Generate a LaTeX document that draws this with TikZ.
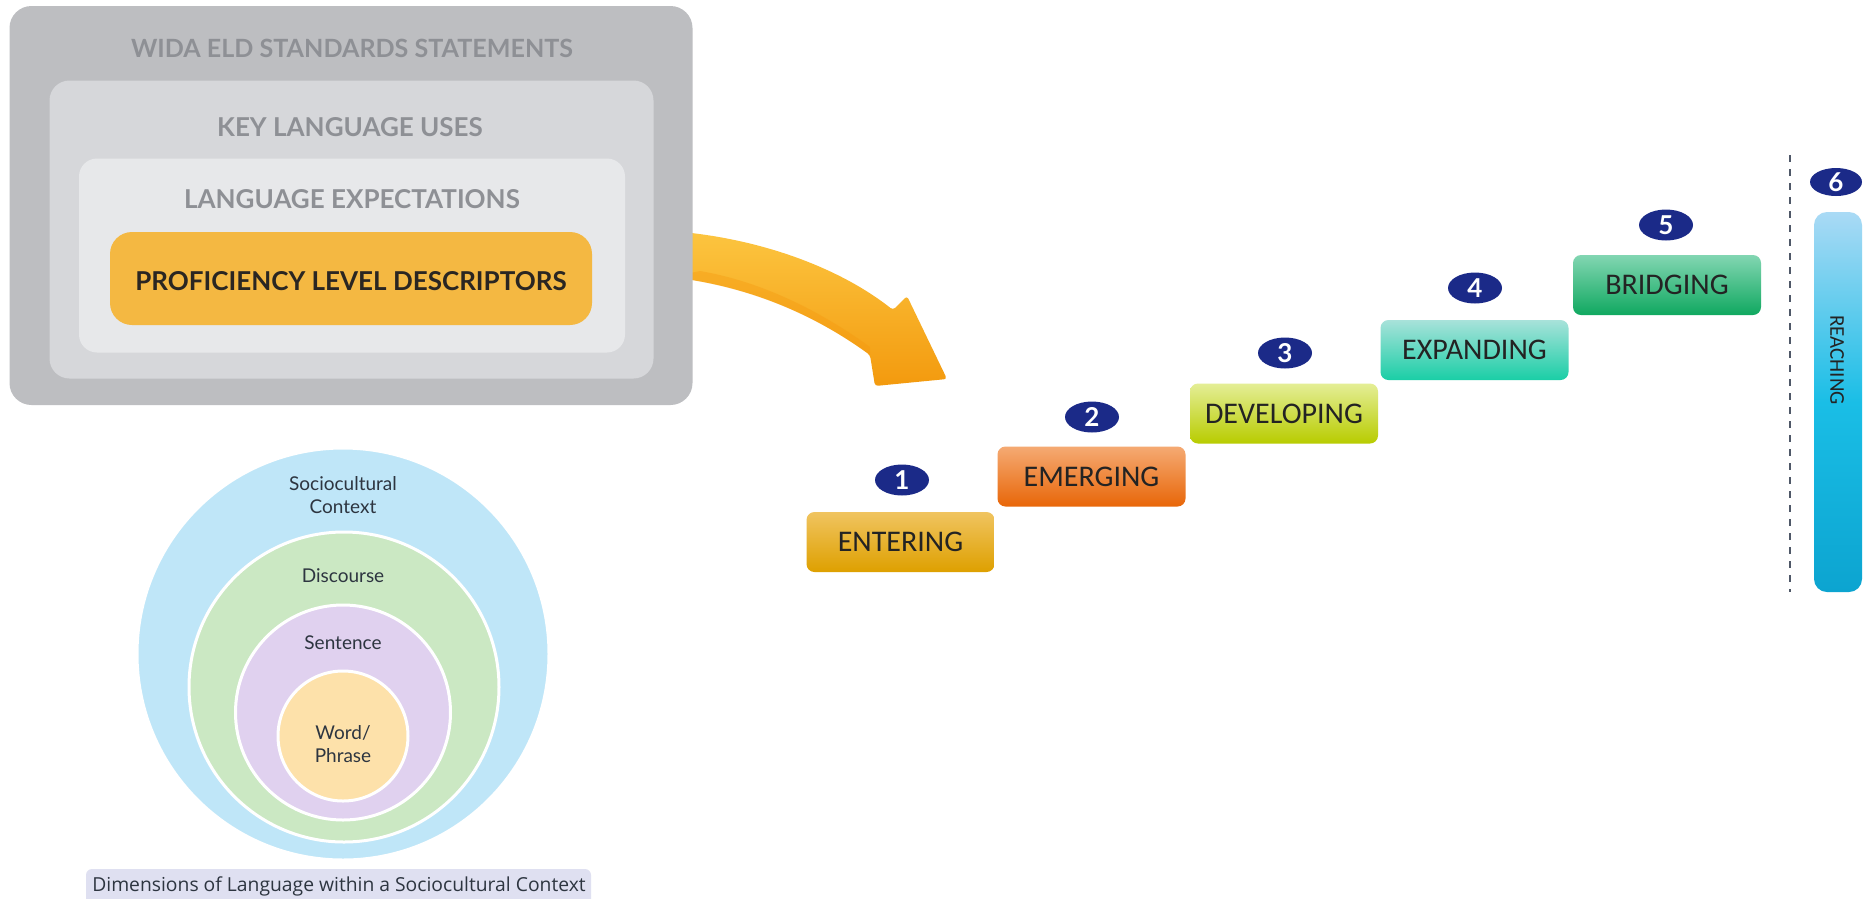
\documentclass[tikz,border=0pt]{standalone}
\usepackage{fontspec}
\setmainfont{Lato}
\newfontfamily\carl{Carlito}
\newfontfamily\osans{Open Sans}
\usetikzlibrary{shapes.geometric}
\definecolor{gOuter}{HTML}{BDBEC1}
\definecolor{gMid}{HTML}{D6D7DA}
\definecolor{gIn}{HTML}{E7E8EA}
\definecolor{pldOrange}{HTML}{F4B842}
\definecolor{lblGray}{HTML}{8E9095}
\definecolor{darkTxt}{HTML}{2A2622}
\definecolor{stepTxt}{HTML}{232323}
\definecolor{circTxt}{HTML}{2D3540}
\definecolor{navy}{HTML}{1B2A88}
\definecolor{arrTop}{HTML}{FCC540}
\definecolor{arrBot}{HTML}{F39A0E}
\definecolor{cBlue}{HTML}{BFE6F8}
\definecolor{cGreen}{HTML}{CBE8C3}
\definecolor{cPurple}{HTML}{E0D1EF}
\definecolor{cOrange}{HTML}{FDE1AA}
\definecolor{capFill}{HTML}{DFE0F1}
\definecolor{dashCol}{HTML}{4F5868}
\tikzset{
  box/.style={rounded corners=#1, inner sep=0pt},
  toplbl/.style={text=lblGray, font=\bfseries\fontsize{26}{30}\selectfont, inner sep=0pt},
  stepbox/.style={rounded corners=8pt, minimum width=188pt, minimum height=60pt, inner sep=0pt,
     text=stepTxt, font=\carl\fontsize{30}{34}\selectfont},
  badge/.style={ellipse, fill=navy, minimum width=54pt, minimum height=31pt, inner sep=0pt,
     text=white, font=\fontsize{26}{26}\selectfont\bfseries},
  ring/.style={circle, draw=white, line width=3pt, inner sep=0pt, minimum size=#1},
  circtxt/.style={text=circTxt, font=\fontsize{19}{23}\selectfont, align=center, inner sep=0pt},
}
\begin{document}
\begin{tikzpicture}[x=1pt,y=-1pt]
\useasboundingbox (0,0) rectangle (1866,898);
\fill[white] (0,0) rectangle (1866,898);

% curved arrow (behind box)
\path[top color=arrTop, bottom color=arrBot, rounded corners=3pt]
  (670,231) .. controls (760,238) and (840,268) .. (893,310)
  -- (907,296) -- (947,379) -- (875,386) -- (870,355)
  .. controls (830,326) and (765,288) .. (670,277) -- cycle;
\path[fill=arrBot!85!orange, opacity=0.35]
  (700,271) .. controls (770,283) and (830,318) .. (870,347)
  -- (870,355) .. controls (830,326) and (765,288) .. (670,277) -- cycle;
\coordinate (arrowtip) at (947,379);

% nested boxes
\node[box=22pt, fill=gOuter, minimum width=683pt, minimum height=399pt] (outer) at (351,205.5) {};
\node[box=20pt, fill=gMid, minimum width=604pt, minimum height=298pt] (mid) at (351.5,229.5) {};
\node[box=18pt, fill=gIn, minimum width=546pt, minimum height=194pt] (inner) at (352,255.5) {};
\node[box=22pt, fill=pldOrange, minimum width=482pt, minimum height=93pt] (pld) at (351,278.5) {};
\node[toplbl, font=\bfseries\fontsize{25.1}{30}\selectfont] (t1) at (352,48) {WIDA ELD STANDARDS STATEMENTS};
\node[toplbl] (t2) at (350,127) {KEY LANGUAGE USES};
\node[toplbl] (t3) at (352,199) {LANGUAGE EXPECTATIONS};
\node[toplbl, text=darkTxt] (t4) at (351,281) {PROFICIENCY LEVEL DESCRIPTORS};

% steps
\node[stepbox, top color={rgb,255:red,240;green,196;blue,96}, bottom color={rgb,255:red,222;green,160;blue,0}] (s1) at (900.5,542) {ENTERING};
\node[stepbox, top color={rgb,255:red,245;green,170;blue,115}, bottom color={rgb,255:red,232;green,102;blue,8}] (s2) at (1091.5,476.5) {EMERGING};
\node[stepbox, top color={rgb,255:red,228;green,238;blue,150}, bottom color={rgb,255:red,184;green,204;blue,0}] (s3) at (1284,413.5) {DEVELOPING};
\node[stepbox, top color={rgb,255:red,168;green,226;blue,218}, bottom color={rgb,255:red,26;green,206;blue,166}] (s4) at (1474.5,350) {EXPANDING};
\node[stepbox, top color={rgb,255:red,130;green,214;blue,178}, bottom color={rgb,255:red,16;green,168;blue,96}] (s5) at (1667,285) {BRIDGING};

\node[badge] (b1) at (902,480) {1};
\node[badge] (b2) at (1092,417) {2};
\node[badge] (b3) at (1285,353) {3};
\node[badge] (b4) at (1475,288) {4};
\node[badge] (b5) at (1666,225) {5};
\node[badge, minimum width=52pt, minimum height=28pt] (b6) at (1836,182) {6};

% dashed divider
\coordinate (dtop) at (1790,155);
\coordinate (dbot) at (1790,592);
\draw[dashCol, line width=2.7pt, dash pattern=on 7pt off 7pt] (dtop) -- (dbot);

% reaching bar
\node[rounded corners=13pt, minimum width=48pt, minimum height=380pt, inner sep=0pt,
  top color={rgb,255:red,170;green,218;blue,245}, bottom color={rgb,255:red,12;green,164;blue,208},
  middle color={rgb,255:red,26;green,190;blue,230}] (reach) at (1838,402) {};
\node[rotate=-90, text=stepTxt, font=\carl\fontsize{21}{21}\selectfont, inner sep=0pt] (reachtxt) at (1837,360) {REACHING};

% circles
\node[ring=412pt, fill=cBlue] (c1) at (343,654) {};
\node[ring=310pt, fill=cGreen] (c2) at (344,687) {};
\node[ring=215pt, fill=cPurple] (c3) at (343,712.5) {};
\node[ring=130pt, fill=cOrange] (c4) at (343,736) {};
\node[circtxt] (l1) at (343,495) {Sociocultural\\Context};
\node[circtxt] (l2) at (343,576) {Discourse};
\node[circtxt] (l3) at (343,643) {Sentence};
\node[circtxt] (l4) at (343,744) {Word/\\Phrase};

% caption
\node[rounded corners=6pt, fill=capFill, minimum width=505pt, minimum height=40pt, inner sep=0pt] (capbox) at (338.5,889) {};
\node[text=circTxt, font=\osans\fontsize{19.3}{22}\selectfont, inner sep=0pt] (cap) at (339,886) {Dimensions of Language within a Sociocultural Context};
\end{tikzpicture}
\end{document}
